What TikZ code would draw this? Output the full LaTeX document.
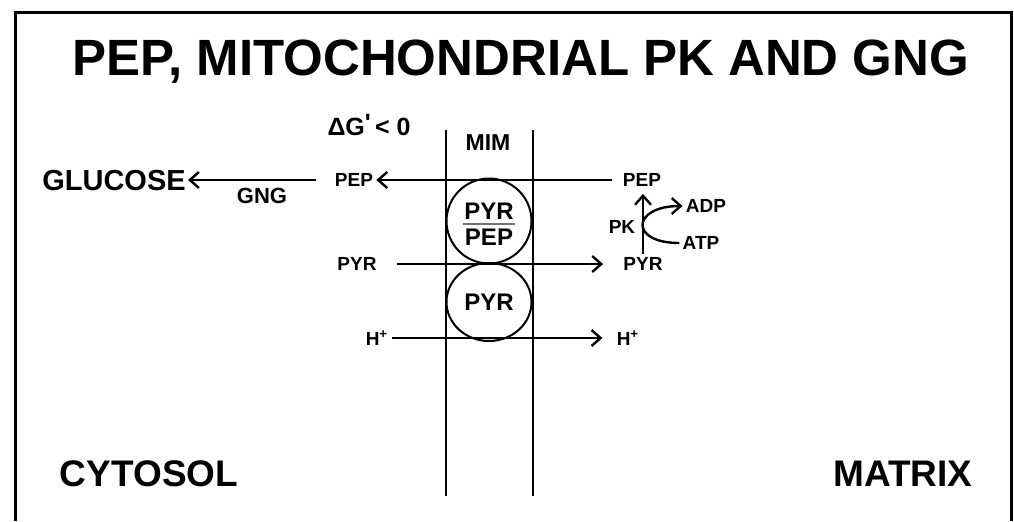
\documentclass[tikz,border=0pt]{standalone}
\usepackage{fontspec}
\setmainfont{Liberation Sans}
\usetikzlibrary{arrows.meta,positioning,calc,shapes.geometric}
\tikzset{
  frm/.style={line width=1.5pt},
  memb/.style={line width=0.8pt},
  flow/.style={-{Straight Barb[length=4.5pt,width=8pt]},line width=1.2pt},
  carrier/.style={draw,ellipse,line width=1pt,inner sep=0pt,minimum width=42.5pt},
  slab/.style={font=\fontsize{9.5}{11}\selectfont\bfseries,inner sep=1.5pt},
  mlab/.style={font=\fontsize{12}{14}\selectfont\bfseries,inner sep=1.5pt},
  blab/.style={font=\fontsize{18.5}{22}\selectfont\bfseries,inner sep=0pt},
}

\begin{document}
\begin{tikzpicture}[x=0.5pt,y=-0.5pt]
  \useasboundingbox (0,0) rectangle (1014,521);
  \draw[frm] (15,521)--(15,12)--(1011,12)--(1011,521);
  \node[font=\fontsize{25.5}{30}\selectfont\bfseries] (title) at (521,62) {PEP, MITOCHONDRIAL PK AND GNG};
  % membran
  \draw[memb] (446,130)--(446,496);
  \draw[memb] (533,130)--(533,496);
  \node[font=\fontsize{11.5}{13}\selectfont\bfseries] (mim) at (488,143) {MIM};
  \node[font=\fontsize{12.5}{15}\selectfont\bfseries] (dg) at (369,125) {ΔG\raisebox{0.3ex}{\textquotesingle}\,< 0};
  % tashuvchilar
  \node[carrier,minimum height=42.5pt] (carA) at (489,221) {};
  \node[carrier,minimum height=39pt] (carB) at (489,302) {};
  \node[mlab] (fracT) at (489,211) {PYR};
  \node[mlab] (fracB) at (489,237) {PEP};
  \draw[line width=0.8pt,black!55] ($(carA)+(-26,3)$) -- ($(carA)+(26,3)$);
  \node[mlab] (carPyr) at (489,302) {PYR};
  % sitozol / matriks belgilari
  \node[slab] (pepC) at (354,180) {PEP};
  \node[slab] (pepM) at (642,180) {PEP};
  \node[slab] (pyrC) at (357,264) {PYR};
  \node[slab] (pyrM) at (643,264) {PYR};
  \node[slab] (hC) at (377,338) {H\textsuperscript{+}};
  \node[slab] (hM) at (628,338) {H\textsuperscript{+}};
  \node[slab] (pk) at (622,227) {PK};
  \node[slab] (adp) at (706,206) {ADP};
  \node[slab] (atp) at (701,243) {ATP};
  \node[font=\fontsize{14.5}{17}\selectfont\bfseries,inner sep=1pt] (glc) at (114,181) {GLUCOSE};
  \node[font=\fontsize{11}{13}\selectfont\bfseries] (gng) at (262,196) {GNG};
  \node[blab] (cyto) at (149,474) {CYTOSOL};
  \node[blab] (matrix) at (903,474) {MATRIX};
  % strelkalar
  \draw[flow,shorten <=4pt] (pepM.west) -- (pepC.east);
  \draw[flow,shorten <=8pt] (pepC.west) -- (pepC.west -| glc.east);
  \draw[flow,shorten <=8.5pt,shorten >=8.5pt] (pyrC.east) -- (pyrM.west);
  \draw[flow,shorten >=5.5pt] (hC.east) -- (hM.west);
  \draw[flow,shorten >=2pt] (pyrM.north) -- (pyrM.north |- pepM.south);
  \draw[flow] (atp.west) to[out=180,in=180,looseness=3.5] (adp.west);
\end{tikzpicture}
\end{document}
